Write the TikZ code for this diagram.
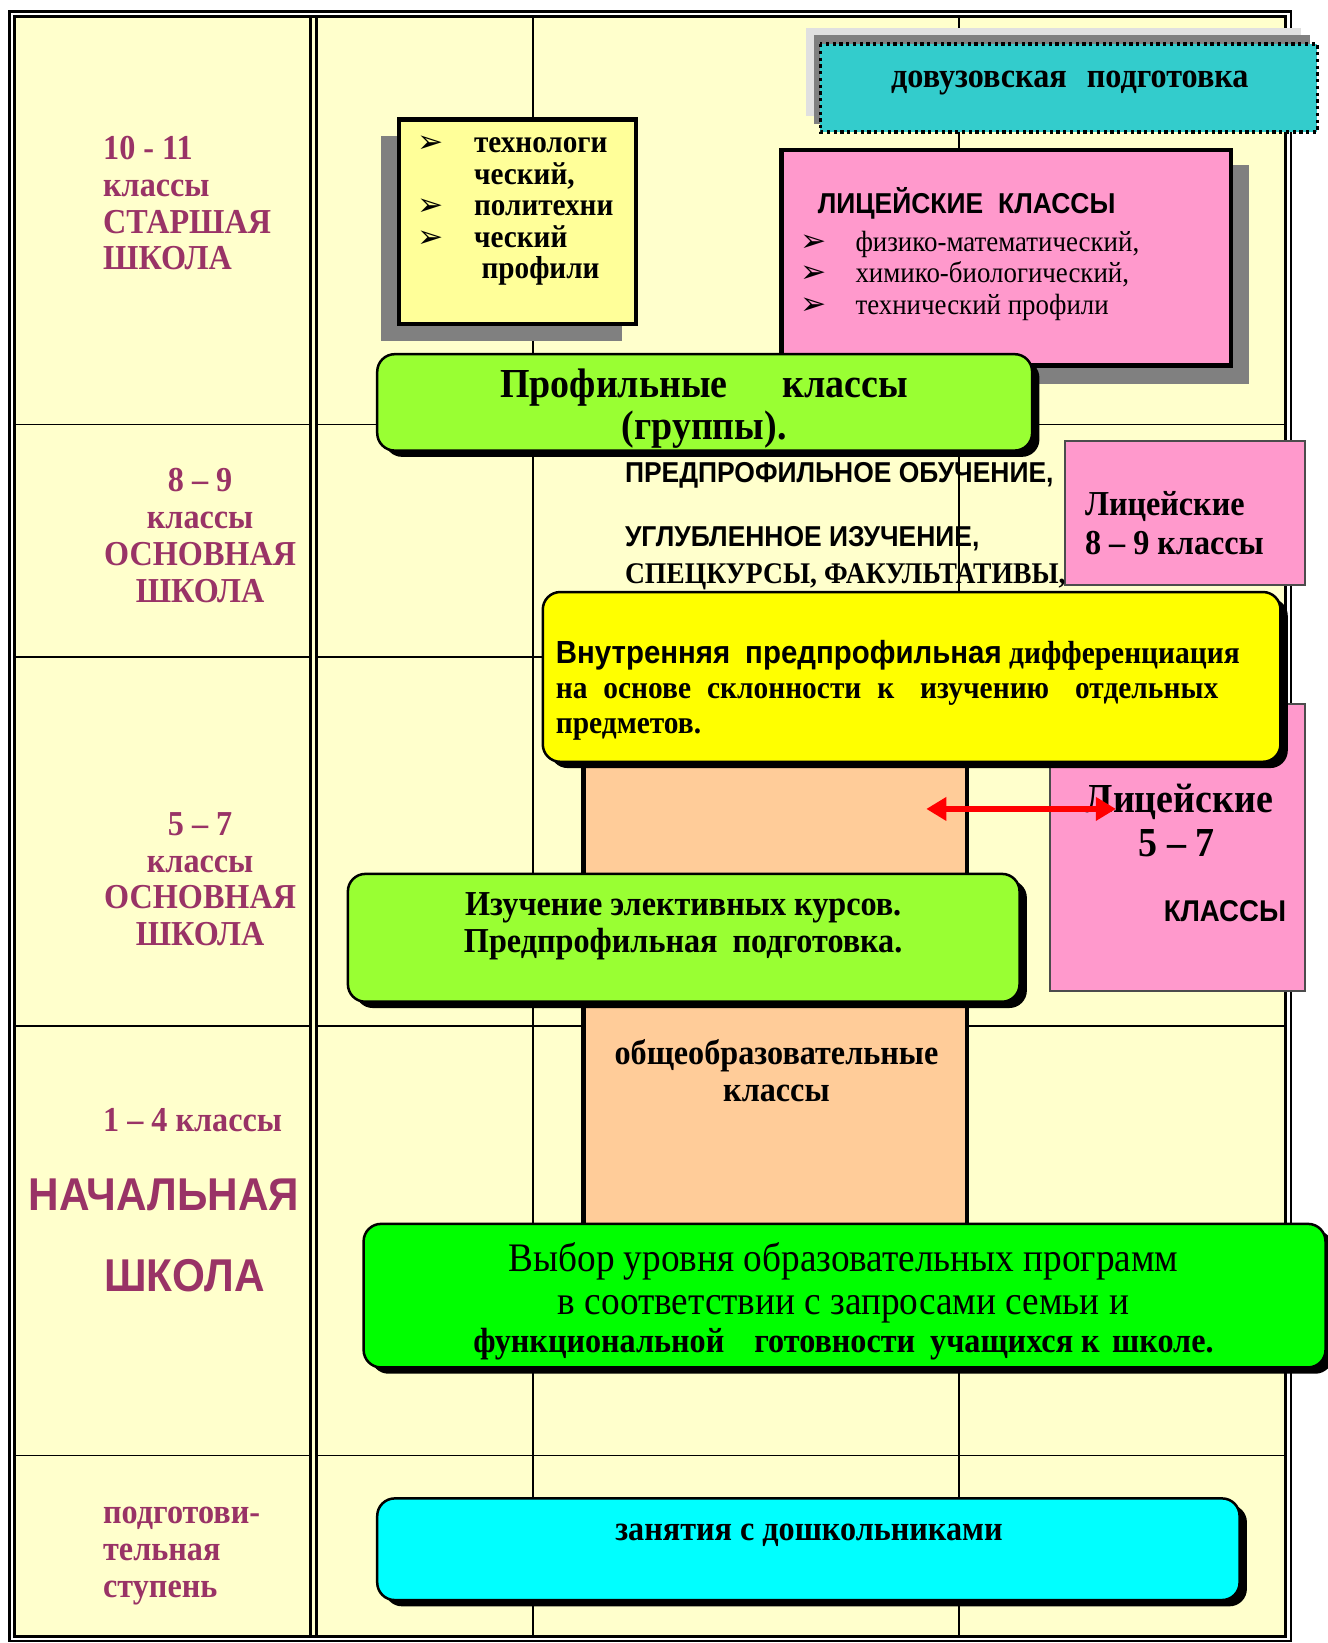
\documentclass[tikz,border=0pt]{standalone}
\usepackage{fontspec}
\setmainfont{Liberation Serif}[FakeStretch=0.92]
\setsansfont{Liberation Sans}[FakeStretch=0.92]
\newfontfamily\dejavu{DejaVu Sans}
\usetikzlibrary{arrows.meta}

\definecolor{cream}{HTML}{FFFFCC}
\definecolor{maroon}{HTML}{993366}
\definecolor{teal1}{HTML}{33CCCC}
\definecolor{pinkbox}{HTML}{FF99CC}
\definecolor{lightyel}{HTML}{FFFF99}
\definecolor{lime}{HTML}{99FF33}
\definecolor{peach}{HTML}{FFCC99}
\definecolor{brightgreen}{HTML}{00FF00}
\definecolor{aqua}{HTML}{00FFFF}
\definecolor{yel}{HTML}{FFFF00}
\definecolor{shadowgray}{HTML}{808080}
\definecolor{palegray}{HTML}{E0E0E0}

\newcommand{\fsz}[2]{\fontsize{#1}{#2}\selectfont}

\tikzset{
  gridline/.style={line width=0.7pt},
  frameline/.style={line width=1.1pt},
  grade/.style={text=maroon, font=\bfseries\fsz{14}{14.7}, inner sep=0pt},
  plainbox/.style={draw=black, line width=1.8pt},
  roundbox/.style={draw=black, line width=1pt, rounded corners=7pt},
  boxshadow/.style={fill=black, rounded corners=7pt},
  flatshadow/.style={fill=shadowgray},
  thinbox/.style={draw=black!70, line width=0.8pt, fill=pinkbox},
  boxtext/.style={font=\bfseries\fsz{14}{15}, inner sep=0pt},
  bullet/.style={font=\dejavu\fsz{12.5}{12.5}, inner sep=0pt},
  twoway/.style={red, line width=2.2pt, {Triangle[length=8pt,width=9pt]}-{Triangle[length=8pt,width=9pt]}},
}

\begin{document}
\begin{tikzpicture}[x=0.4192pt,y=-0.4192pt]
\useasboundingbox (0,0) rectangle (1267,1568);
% table background and grid
\fill[cream] (14,16) rectangle (1227,1562);
\foreach \y in {405,627,979,1389} {
  \draw[gridline] (14,\y) -- (296,\y);
  \draw[gridline] (302,\y) -- (1227,\y);
}
\foreach \x in {509,915}
  \draw[gridline] (\x,16) -- (\x,1562);
\draw[frameline] (9,11) rectangle (1232,1566);
\draw[frameline] (14,16) rectangle (1227,1562);
\draw[line width=1.3pt] (296,16) -- (296,1562);
\draw[line width=1.3pt] (302,16) -- (302,1562);

% boxes of the senior school
\fill[palegray] (769,27) rectangle (1242,111);
\fill[flatshadow] (777,33) rectangle (1250,118);
\filldraw[fill=teal1, line width=1.3pt, dash pattern=on 1.3pt off 1.4pt] (783,42) rectangle (1257,126);
\fill[flatshadow] (364,130) rectangle (594,325);
\filldraw[plainbox, fill=lightyel] (381,114) rectangle (607,309);
\fill[flatshadow] (760,157) rectangle (1192,366);
\filldraw[plainbox, fill=pinkbox] (746,143) rectangle (1175,349);
\fill[boxshadow] (367,344) rectangle (992,436);
\filldraw[roundbox, fill=lime] (360,338) rectangle (985,430);

% basic school
\filldraw[thinbox] (1016,421) rectangle (1245,558);
\filldraw[fill=peach, line width=1.8pt] (557,700) rectangle (923,1175);
\filldraw[thinbox] (1002,672) rectangle (1245,946);
\fill[boxshadow] (525,571) rectangle (1229,733);
\filldraw[roundbox, fill=yel] (518,565) rectangle (1222,727);
\fill[boxshadow] (339,840) rectangle (980,962);
\filldraw[roundbox, fill=lime] (332,834) rectangle (973,956);

% primary and pre-school
\fill[boxshadow] (354,1174) rectangle (1272,1311);
\filldraw[roundbox, fill=brightgreen] (347,1168) rectangle (1265,1305);
\fill[boxshadow] (367,1436) rectangle (1190,1533);
\filldraw[roundbox, fill=aqua] (360,1430) rectangle (1183,1527);

% left column
\node[grade, anchor=west, align=left] (g1011) at (98,194) {10 - 11\\классы\\СТАРШАЯ\\ШКОЛА};
\node[grade, align=center] (g89) at (191,511) {8 – 9\\классы\\ОСНОВНАЯ\\ШКОЛА};
\node[grade, align=center] (g57) at (191,839) {5 – 7\\классы\\ОСНОВНАЯ\\ШКОЛА};
\node[grade, anchor=west] (g14) at (98,1069) {1 – 4 классы};
\node[grade, anchor=west, font=\sffamily\bfseries\fsz{18.4}{18}] (nach) at (27,1140) {НАЧАЛЬНАЯ};
\node[grade, anchor=west, font=\sffamily\bfseries\fsz{18.4}{18}] (shk) at (99,1217) {ШКОЛА};
\node[grade, anchor=west, align=left] (podg) at (98,1485) {подготови-\\тельная\\ступень};

% texts of the boxes
\node[boxtext] (dovuz) at (1021,79) {довузовская\hspace{8pt}подготовка};
\node[bullet] (tb1) at (411,138) {➢};
\node[bullet] (tb2) at (411,198) {➢};
\node[bullet] (tb3) at (411,228) {➢};
\node[boxtext, anchor=west, align=left, font=\bfseries\fsz{12.7}{12.6}] (tech) at (452,202)
  {технологи\\ческий,\\политехни\\ческий\\\hspace*{3pt}профили};
\node[boxtext, anchor=west, font=\sffamily\bfseries\fsz{11.5}{12}] (lyctitle) at (780,194) {ЛИЦЕЙСКИЕ\hspace{6pt}КЛАССЫ};
\node[bullet] (lb1) at (776,232) {➢};
\node[bullet] (lb2) at (776,262) {➢};
\node[bullet] (lb3) at (776,292) {➢};
\node[boxtext, anchor=west, align=left, font=\fsz{11.7}{12.6}] (lyclist) at (816,263)
  {физико-математический,\\химико-биологический,\\технический профили};
\node[boxtext, align=center, font=\bfseries\fsz{16.5}{16.8}] (prof) at (672,390)
  {Профильные\hspace{22pt}классы\\(группы).};
\node[boxtext, anchor=west, font=\sffamily\bfseries\fsz{11.5}{12}] (pre1) at (596,454) {ПРЕДПРОФИЛЬНОЕ ОБУЧЕНИЕ,};
\node[boxtext, anchor=west, font=\sffamily\bfseries\fsz{11.5}{12}] (pre2) at (596,514) {УГЛУБЛЕННОЕ ИЗУЧЕНИЕ,};
\node[boxtext, anchor=west, font=\bfseries\fsz{12}{12}] (pre3) at (596,550) {СПЕЦКУРСЫ, ФАКУЛЬТАТИВЫ,};
\node[boxtext, anchor=west, align=left, font=\bfseries\fsz{14}{15.5}] (lyc89) at (1035,499) {Лицейские\\8 – 9 классы};
\node[boxtext, anchor=west, align=left, font=\bfseries\fsz{12.8}{14}] (inner) at (530,659)
  {{\sffamily Внутренняя\hspace{6pt}предпрофильная} дифференциация\\
   \makebox[265pt][s]{на\hspace{4pt} основе\hspace{4pt} склонности\hspace{4pt} к\hspace{8pt} изучению\hspace{8pt} отдельных}\\
   предметов.};
\node[boxtext, font=\bfseries\fsz{16.5}{16.5}] (lyc57a) at (1125,765) {Лицейские};
\node[boxtext, font=\bfseries\fsz{16.5}{16.5}] (lyc57b) at (1123,805) {5 – 7};
\node[boxtext, font=\sffamily\bfseries\fsz{12}{12}] (lyc57c) at (1169,870) {КЛАССЫ};
\node[boxtext, align=center, font=\bfseries\fsz{14}{15.1}] (elect) at (652,884)
  {Изучение элективных курсов.\\Предпрофильная\hspace{6pt}подготовка.};
\node[boxtext, align=center, font=\bfseries\fsz{14}{14.7}] (general) at (741,1022)
  {общеобразовательные\\классы};
\node[boxtext, align=center, font=\mdseries\fsz{16.2}{17.2}] (choice) at (805,1224)
  {Выбор уровня образовательных программ\\в соответствии с запросами семьи и};
\node[boxtext, font=\bfseries\fsz{14}{14}] (choice3) at (805,1283)
  {функциональной\hspace{12pt}готовности\hspace{6pt}учащихся к\hspace{5pt}школе.};
\node[boxtext] (preschool) at (772,1465) {занятия с дошкольниками};

% link to the lyceum classes
\coordinate (arrL) at (884,772);
\coordinate (arrR) at (1065,772);
\draw[twoway] (arrL) -- (arrR);
\end{tikzpicture}
\end{document}
